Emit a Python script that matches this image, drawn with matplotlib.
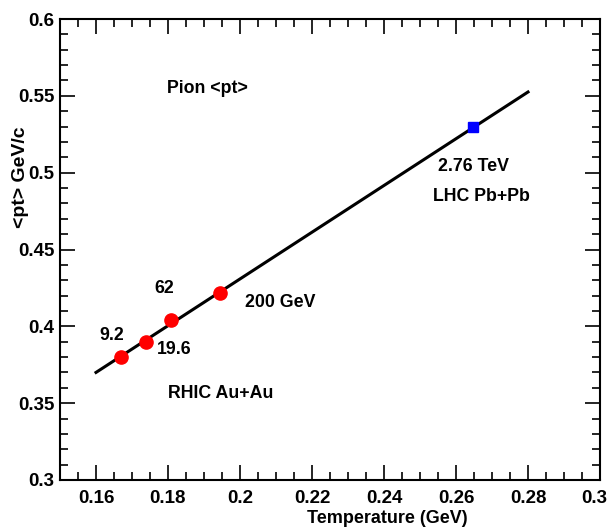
import matplotlib
matplotlib.use("Agg")
import matplotlib.pyplot as plt
import matplotlib.transforms as mtransforms
from matplotlib.ticker import MultipleLocator

plt.rcParams['font.family'] = ['Liberation Sans', 'DejaVu Sans']
plt.rcParams['font.weight'] = 'bold'

# Data
rhic_T = [0.1669, 0.1739, 0.1808, 0.1944]
rhic_pt = [0.380, 0.390, 0.404, 0.422]
lhc_T = [0.2647]
lhc_pt = [0.530]
fit_T = [0.160, 0.280]
fit_pt = [0.370, 0.5525]
xticks = [0.16, 0.18, 0.2, 0.22, 0.24, 0.26, 0.28, 0.3]
xtick_labels = ["0.16", "0.18", "0.2", "0.22", "0.24", "0.26", "0.28", "0.3"]
yticks = [0.3, 0.35, 0.4, 0.45, 0.5, 0.55, 0.6]
ytick_labels = ["0.3", "0.35", "0.4", "0.45", "0.5", "0.55", "0.6"]

fig = plt.figure(figsize=(6.10, 5.29), dpi=100)
ax = fig.add_axes([60/610, 1-480/529, 540/610, 461/529])

ax.plot(fit_T, fit_pt, color='black', lw=2.2, zorder=2)
ax.plot(rhic_T, rhic_pt, 'o', color='#ff0000', ms=9.5, mec='#ff0000', zorder=3)
ax.plot(lhc_T, lhc_pt, 's', color='#0000ff', ms=6.5, mec='#0000ff', zorder=3)

ax.set_xlim(0.15, 0.3)
ax.set_ylim(0.3, 0.6)
ax.set_xticks(xticks)
ax.set_xticklabels(xtick_labels)
ax.set_yticks(yticks)
ax.set_yticklabels(ytick_labels)
ax.xaxis.set_minor_locator(MultipleLocator(0.005))
ax.yaxis.set_minor_locator(MultipleLocator(0.01))
ax.tick_params(which='both', direction='in', top=True, right=True, width=1.2)
ax.tick_params(which='major', length=11, labelsize=13.5)
ax.tick_params(axis='y', which='major', pad=4)
ax.tick_params(axis='x', which='major', pad=7)
ax.tick_params(which='minor', length=5.5)
for s in ax.spines.values():
    s.set_linewidth(1.5)
for lab in ax.get_xticklabels() + ax.get_yticklabels():
    lab.set_fontweight('bold')

# keep the last x tick label inside the canvas
last = ax.get_xticklabels()[-1]
last.set_transform(last.get_transform() + mtransforms.ScaledTranslation(-0.06, 0, fig.dpi_scale_trans))

ax.set_xlabel("Temperature (GeV)", fontsize=13, fontweight='bold', loc='right')
ax.xaxis.set_label_coords(0.754, -0.064)
ax.set_ylabel("<pt> GeV/c", fontsize=14, fontweight='bold', loc='top')
ax.yaxis.set_label_coords(-0.058, 0.766)

fs = 12.8
ax.text(0.1797, 0.555, "Pion <pt>", fontsize=fs, fontweight='bold', va='center', ha='left')
ax.text(0.2650, 0.5043, "2.76 TeV", fontsize=fs, fontweight='bold', va='center', ha='center')
ax.text(0.2670, 0.4848, "LHC Pb+Pb", fontsize=fs, fontweight='bold', va='center', ha='center')
ax.text(0.1789, 0.4249, "62", fontsize=fs, fontweight='bold', va='center', ha='center')
ax.text(0.1644, 0.3943, "9.2", fontsize=fs, fontweight='bold', va='center', ha='center')
ax.text(0.1817, 0.3846, "19.6", fontsize=fs, fontweight='bold', va='center', ha='center')
ax.text(0.2014, 0.4152, "200 GeV", fontsize=fs, fontweight='bold', va='center', ha='left')
ax.text(0.1800, 0.3566, "RHIC Au+Au", fontsize=fs, fontweight='bold', va='center', ha='left')

fig.savefig("out.png", dpi=100)
